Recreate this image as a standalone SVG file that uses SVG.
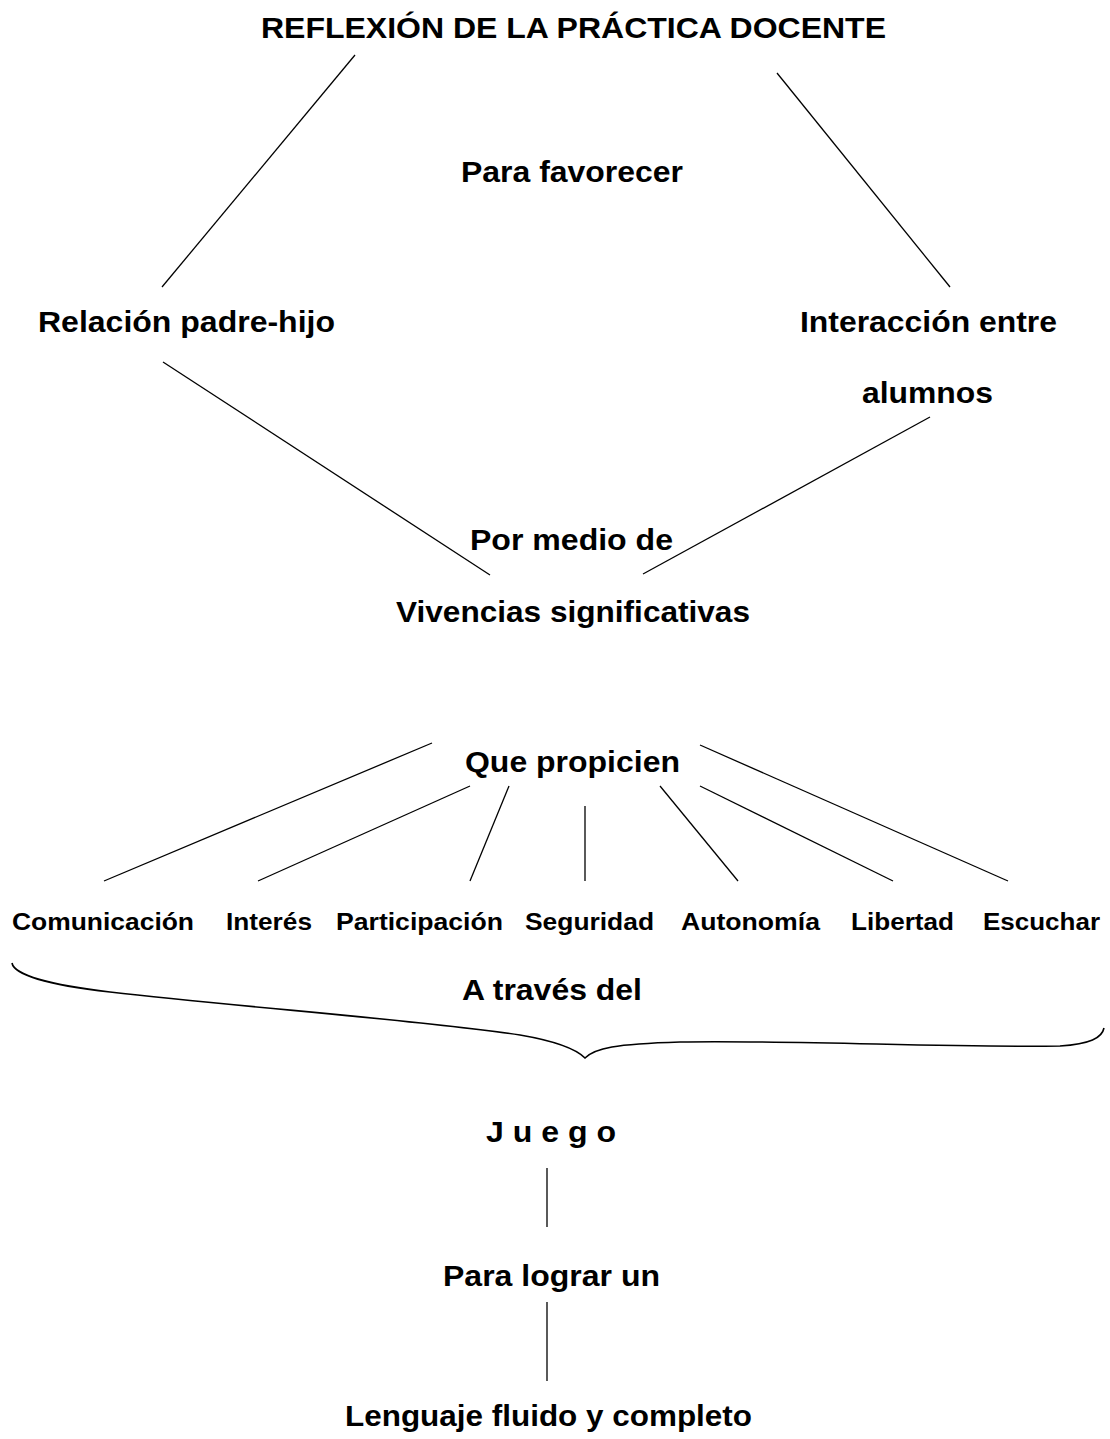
<svg xmlns="http://www.w3.org/2000/svg" width="1110" height="1439" viewBox="0 0 1110 1439">
<style>
.t{font-family:"Liberation Sans",Arial,sans-serif;font-weight:bold;font-size:29px;fill:#000}
.s{font-family:"Liberation Sans",Arial,sans-serif;font-weight:bold;font-size:23px;fill:#000}
.c line{stroke:#000;stroke-width:1.3}
.brace{fill:none;stroke:#000;stroke-width:1.6}
</style>
<rect width="1110" height="1439" fill="#fff"/>
<g id="connectors" class="c">
<line x1="355" y1="55" x2="162" y2="287"/>
<line x1="777" y1="73" x2="950" y2="287"/>
<line x1="163" y1="362" x2="490" y2="575"/>
<line x1="930" y1="417" x2="643" y2="574"/>
<line x1="432" y1="743" x2="104" y2="881"/>
<line x1="470" y1="786" x2="258" y2="881"/>
<line x1="509" y1="786" x2="470" y2="881"/>
<line x1="585" y1="806" x2="585" y2="881"/>
<line x1="660" y1="786" x2="738" y2="881"/>
<line x1="700" y1="786" x2="893" y2="881"/>
<line x1="700" y1="745" x2="1008" y2="881"/>
<line x1="547" y1="1168" x2="547" y2="1227"/>
<line x1="547" y1="1302" x2="547" y2="1381"/>
<path class="brace" d="M12 963 C14 975 50 985 110 992 C250 1008 420 1020 520 1035 C555 1041 575 1048 585 1058 C595 1048 615 1044 680 1042 C800 1040 950 1048 1060 1046 C1090 1044 1102 1038 1104 1028"/>
</g>
<g id="n-title"><text class="t" x="261" y="38" textLength="625" lengthAdjust="spacingAndGlyphs">REFLEXIÓN DE LA PRÁCTICA DOCENTE</text></g>
<g id="n-para-favorecer"><text class="t" x="461" y="182" textLength="222" lengthAdjust="spacingAndGlyphs">Para favorecer</text></g>
<g id="n-relacion"><text class="t" x="38" y="332" textLength="297" lengthAdjust="spacingAndGlyphs">Relación padre-hijo</text></g>
<g id="n-interaccion"><text class="t" x="800" y="332" textLength="257" lengthAdjust="spacingAndGlyphs">Interacción entre</text><text class="t" x="862" y="403" textLength="131" lengthAdjust="spacingAndGlyphs">alumnos</text></g>
<g id="n-por-medio"><text class="t" x="470" y="550" textLength="203" lengthAdjust="spacingAndGlyphs">Por medio de</text></g>
<g id="n-vivencias"><text class="t" x="396" y="622" textLength="354" lengthAdjust="spacingAndGlyphs">Vivencias significativas</text></g>
<g id="n-que-propicien"><text class="t" x="465" y="772" textLength="215" lengthAdjust="spacingAndGlyphs">Que propicien</text></g>
<g id="n-comunicacion"><text class="s" x="12" y="930" textLength="182" lengthAdjust="spacingAndGlyphs">Comunicación</text></g>
<g id="n-interes"><text class="s" x="226" y="930" textLength="86" lengthAdjust="spacingAndGlyphs">Interés</text></g>
<g id="n-participacion"><text class="s" x="336" y="930" textLength="167" lengthAdjust="spacingAndGlyphs">Participación</text></g>
<g id="n-seguridad"><text class="s" x="525" y="930" textLength="129" lengthAdjust="spacingAndGlyphs">Seguridad</text></g>
<g id="n-autonomia"><text class="s" x="681" y="930" textLength="139" lengthAdjust="spacingAndGlyphs">Autonomía</text></g>
<g id="n-libertad"><text class="s" x="851" y="930" textLength="103" lengthAdjust="spacingAndGlyphs">Libertad</text></g>
<g id="n-escuchar"><text class="s" x="983" y="930" textLength="117" lengthAdjust="spacingAndGlyphs">Escuchar</text></g>
<g id="n-a-traves"><text class="t" x="462" y="1000" textLength="180" lengthAdjust="spacingAndGlyphs">A través del</text></g>
<g id="n-juego"><text class="t" x="486" y="1142" textLength="130" lengthAdjust="spacingAndGlyphs">J u e g o</text></g>
<g id="n-para-lograr"><text class="t" x="443" y="1286" textLength="217" lengthAdjust="spacingAndGlyphs">Para lograr un</text></g>
<g id="n-lenguaje"><text class="t" x="345" y="1426" textLength="407" lengthAdjust="spacingAndGlyphs">Lenguaje fluido y completo</text></g>
</svg>
